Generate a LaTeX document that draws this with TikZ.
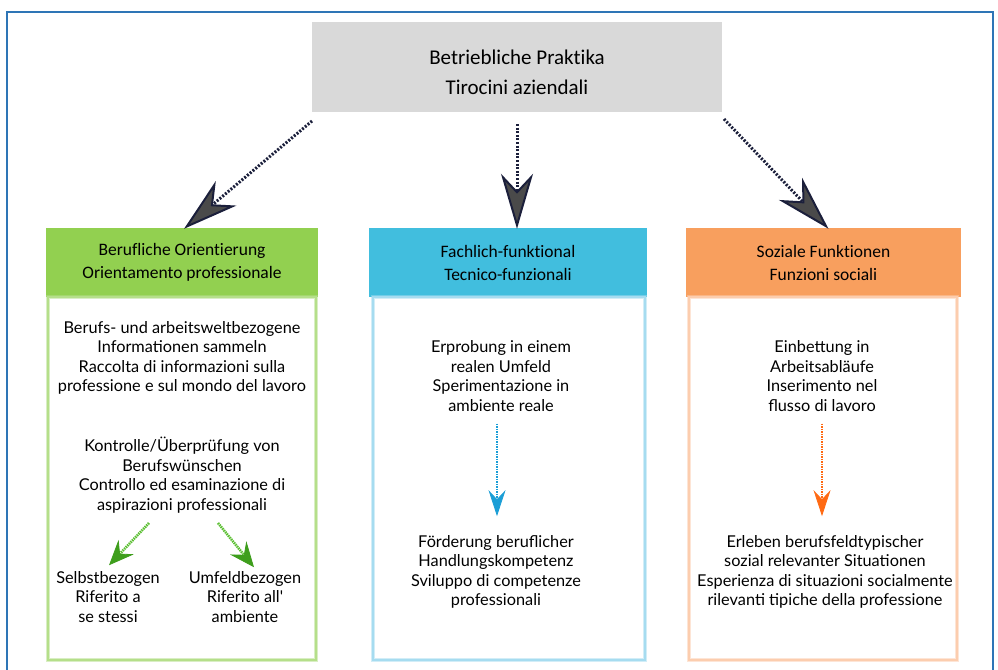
\documentclass[tikz,border=0pt]{standalone}
\usepackage{fontspec}
\setmainfont{Lato}
\newfontfamily\headfont[Ligatures=NoCommon]{Carlito}
\usetikzlibrary{arrows.meta,calc}
\definecolor{frameblue}{HTML}{2E75B6}
\definecolor{topgray}{HTML}{D9D9D9}
\definecolor{hgreen}{HTML}{92D050}
\definecolor{hblue}{HTML}{41BEDE}
\definecolor{horange}{HTML}{F89F5E}
\definecolor{bgreen}{HTML}{B5DF8A}
\definecolor{bblue}{HTML}{A6DCF0}
\definecolor{borange}{HTML}{FCCDAE}
\definecolor{navy}{HTML}{1B1F3B}
\definecolor{headgray}{HTML}{4A4A4A}
\definecolor{agreen}{HTML}{5CBF33}
\definecolor{agreendark}{HTML}{3E9E1C}
\definecolor{ablue}{HTML}{1B9ED6}
\definecolor{aorange}{HTML}{FF6A13}
\tikzset{
  hdr/.style={minimum height=69pt, inner sep=0pt, align=center,
    font=\headfont\fontsize{17.5}{23}\selectfont},
  body/.style={align=center, inner sep=0pt, font=\fontsize{16.3}{19.5}\selectfont},
  bigarrow/.style={navy, line width=3pt, dash pattern=on 2pt off 1.6pt,
    -{Stealth[length=55pt, width=32pt, inset=17pt, fill=headgray, line width=2pt]}},
  smallarrow/.style={#1, line width=2pt, dash pattern=on 1.5pt off 1pt,
    -{Stealth[length=26pt, width=17pt, inset=9pt, fill=#1, line width=0.8pt]}},
  greenarrow/.style={agreen, line width=2.6pt, dash pattern=on 1.5pt off 0.8pt,
    -{Stealth[length=25pt, width=21pt, inset=9pt, fill=agreendark, color=agreendark, line width=0.8pt]}},
  colbox/.style={draw=#1, line width=3.5pt, draw opacity=0.5},
  colboxin/.style={draw=#1, line width=1.4pt},
}
\begin{document}
\begin{tikzpicture}[x=1pt,y=-1pt]
\useasboundingbox (0,0) rectangle (998,669);
\fill[white] (0,0) rectangle (998,669);
% outer frame
\draw[frameblue, line width=1.8pt] (7,680) -- (7,12) -- (993,12) -- (993,680);
% top box
\node[fill=topgray, minimum width=410pt, minimum height=90pt, inner sep=0pt] (top) at (517,67) {};
\node[align=center, inner sep=0pt, font=\headfont\fontsize{21}{30}\selectfont] (toptext) at (517,72)
  {Betriebliche Praktika\\Tirocini aziendali};
% headers
\node[hdr, fill=hgreen, minimum width=272pt] (h1) at (182,262.5) {Berufliche Orientierung\\Orientamento professionale};
\node[hdr, fill=hblue, minimum width=278pt] (h2) at (508,262.5) {Fachlich-funktional\\Tecnico-funzionali};
\node[hdr, fill=horange, minimum width=275pt] (h3) at (823.5,262.5) {Soziale Funktionen\\Funzioni sociali};
% column boxes
\draw[colbox=bgreen] (48,297) rectangle (316,660);
\draw[colboxin=bgreen] (48,297) rectangle (316,660);
\draw[colbox=bblue] (373,297) rectangle (645,660);
\draw[colboxin=bblue] (373,297) rectangle (645,660);
\draw[colbox=borange] (689,297) rectangle (957,660);
\draw[colboxin=borange] (689,297) rectangle (957,660);
% big arrows
\coordinate (s1) at (312,121);
\coordinate (s2) at (517,124);
\coordinate (s3) at (724,119);
\draw[bigarrow] (s1) -- ($(h1.north)+(2,1)$);
\draw[bigarrow] (s2) -- ($(h2.north)+(9,1)$);
\draw[bigarrow] (s3) -- ($(h3.north)+(5,1)$);
% column 1
\node[body] (t11) at (182,358) {Berufs- und arbeitsweltbezogene\\Informationen sammeln\\Raccolta di informazioni sulla\\professione e sul mondo del lavoro};
\node[body] (t12) at (182,475) {Kontrolle/Überprüfung von\\Berufswünschen\\Controllo ed esaminazione di\\aspirazioni professionali};
\node[body] (t13) at (108,597) {Selbstbezogen\\Riferito a\\se stessi};
\node[body] (t14) at (245,597) {Umfeldbezogen\\Riferito all\textquotesingle\\ambiente};
\coordinate (g1) at (149,523);
\coordinate (g2) at (218,523);
\draw[greenarrow] (g1) -- ($(t13.north)+(1,-6)$);
\draw[greenarrow] (g2) -- ($(t14.north)+(9,-4)$);
% column 2
\node[body] (t21) at (501,376) {Erprobung in einem\\realen Umfeld\\Sperimentazione in\\ambiente reale};
\node[body] (t22) at (496,572) {Förderung beruflicher\\Handlungskompetenz\\Sviluppo di competenze\\professionali};
\draw[smallarrow=ablue] ($(t21.south)+(-4,12)$) -- ($(t22.north)+(1,-19)$);
% column 3
\node[body] (t31) at (822,376) {Einbettung in\\Arbeitsabläufe\\Inserimento nel\\flusso di lavoro};
\node[body] (t32) at (825,572) {Erleben berufsfeldtypischer\\sozial relevanter Situationen\\Esperienza di situazioni socialmente\\rilevanti tipiche della professione};
\draw[smallarrow=aorange] ($(t31.south)+(0,12)$) -- ($(t32.north)+(-3,-19)$);
\end{tikzpicture}
\end{document}
